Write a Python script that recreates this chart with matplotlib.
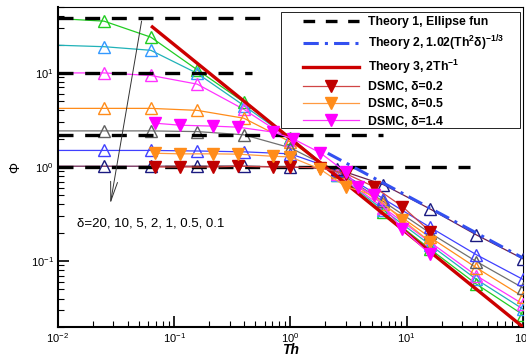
import numpy as np
import matplotlib
matplotlib.use("Agg")
import matplotlib.pyplot as plt
from matplotlib.ticker import LogLocator, NullFormatter
from matplotlib.patches import Rectangle

plt.rcParams['font.family'] = ['Liberation Sans', 'DejaVu Sans']
plt.rcParams['mathtext.fontset'] = 'custom'
plt.rcParams['mathtext.rm'] = 'Liberation Sans'
plt.rcParams['mathtext.bf'] = 'Liberation Sans:bold'
plt.rcParams['axes.unicode_minus'] = False

############### data #######################
# hollow triangles: delta = 20, 10, 5, 2, 1, 0.5, 0.1 (first point = left edge, no marker)
th_open = [0.01, 0.025, 0.063, 0.158, 0.398, 1.0, 2.51, 6.31, 15.8, 39.8, 100.0]
phi_d20 = [37.8, 35.5, 24.0, 10.8, 4.9, 2.05, 0.82, 0.33, 0.135, 0.057, 0.027]
phi_d10 = [19.7, 19.0, 17.4, 9.9, 4.5, 2.0, 0.83, 0.35, 0.15, 0.064, 0.031]
phi_d5 = [10.0, 10.0, 9.4, 7.6, 4.1, 1.95, 0.85, 0.37, 0.16, 0.07, 0.035]
phi_d2 = [4.2, 4.2, 4.2, 4.0, 3.3, 1.85, 0.88, 0.40, 0.18, 0.085, 0.042]
phi_d1 = [2.42, 2.42, 2.42, 2.38, 2.2, 1.6, 0.90, 0.43, 0.20, 0.099, 0.052]
phi_d05 = [1.5, 1.5, 1.5, 1.48, 1.45, 1.38, 0.93, 0.46, 0.23, 0.117, 0.064]
phi_d01 = [1.02, 1.02, 1.02, 1.02, 1.02, 1.0, 0.95, 0.65, 0.36, 0.19, 0.106]

# DSMC filled triangles
th_dsmc = [0.069, 0.113, 0.217, 0.356, 0.71, 1.0, 1.8, 3.0, 5.2, 9.2, 16.0]
dsmc_02 = [1.0, 1.0, 1.0, 1.02, 1.0, 1.0, 0.98, 0.85, 0.62, 0.38, 0.205]
dsmc_05 = [1.4, 1.38, 1.38, 1.37, 1.3, 1.28, 0.95, 0.62, 0.5, 0.275, 0.16]
th_dsmc14 = [0.069, 0.113, 0.217, 0.356, 0.71, 1.05, 1.8, 3.0, 3.8, 5.2, 9.2, 16.0]
dsmc_14 = [2.92, 2.78, 2.72, 2.65, 2.35, 2.0, 1.42, 0.88, 0.62, 0.5, 0.22, 0.118]

# Theory 1 (ellipse function) levels and their right ends
t1_levels = [38.7, 10.0, 2.18, 1.0]
t1_ends = [0.6, 0.47, 6.3, 35.0]
# Theory 2 and 3 end points
t2_th = [2.1, 100.0]
t2_phi = [1.4, 0.108]
t3_th = [0.065, 100.0]
t3_phi = [30.8, 0.02]

fig = plt.figure(figsize=(5.26, 3.58), dpi=100)
ax = fig.add_axes([0.110, 0.087, 0.884, 0.893])
ax.set_xscale('log')
ax.set_yscale('log')

open_series = [(phi_d20, '#22cc22', '#22cc22'),
               (phi_d10, '#20b2b8', '#3399ff'),
               (phi_d5, '#ff33ff', '#ff33ff'),
               (phi_d2, '#ff8c1a', '#ff8c1a'),
               (phi_d1, '#707070', '#606060'),
               (phi_d05, '#4040ff', '#4040ff'),
               (phi_d01, '#6a2050', '#1a1a80')]
for phi, lc, mc in open_series:
    ax.plot(th_open, phi, color=lc, lw=0.9, zorder=2)
    ax.plot(th_open[1:], phi[1:], ls='none', marker='^', ms=9, mfc='none',
            mec=mc, mew=1.0, zorder=3)

# Theory 1
for lev, xe in zip(t1_levels, t1_ends):
    ax.plot([0.01, xe], [lev, lev], color='black', lw=2.4, dashes=(4.5, 3.5), zorder=4)
l1, = ax.plot([], [], color='black', lw=2.4, dashes=(3.5, 3.2))
l2, = ax.plot(t2_th, t2_phi, color='#3350f0', lw=2.2, dashes=(5, 2, 1, 2), zorder=4)
l3, = ax.plot(t3_th, t3_phi, color='#cc0000', lw=2.4, zorder=4)

d1, = ax.plot(th_dsmc, dsmc_02, color='#d04545', lw=0.9, marker='v', ms=9,
              mfc='#c00000', mec='#c00000', zorder=5)
d2, = ax.plot(th_dsmc, dsmc_05, color='#ff9a40', lw=0.9, marker='v', ms=9,
              mfc='#ff8c1a', mec='#ff8c1a', zorder=5)
d3, = ax.plot(th_dsmc14, dsmc_14, color='#ff33ff', lw=0.9, marker='v', ms=9,
              mfc='#ff00ff', mec='#ff00ff', zorder=5)

ax.set_xlim(0.01, 100)
ax.set_ylim(0.02, 50)

ax.xaxis.set_major_locator(LogLocator(base=10, numticks=10))
ax.yaxis.set_major_locator(LogLocator(base=10, numticks=10))
ax.xaxis.set_minor_locator(LogLocator(base=10, subs=np.arange(2, 10), numticks=20))
ax.yaxis.set_minor_locator(LogLocator(base=10, subs=np.arange(2, 10), numticks=20))
ax.xaxis.set_minor_formatter(NullFormatter())
ax.yaxis.set_minor_formatter(NullFormatter())
ax.tick_params(which='major', direction='in', length=8, width=1.2, labelsize=8,
               top=False, right=False, pad=3)
ax.tick_params(which='minor', direction='in', length=4, width=0.8, top=False, right=False)
ax.spines['left'].set_linewidth(1.5)
ax.spines['bottom'].set_linewidth(1.5)
ax.spines['top'].set_linewidth(0.8)
ax.spines['right'].set_linewidth(0.8)

ax.set_xlabel('Th', fontsize=10, fontweight='bold', style='italic', labelpad=-1)
ax.set_ylabel('Φ', fontsize=10, labelpad=6)

ax.annotate('', xy=(0.028, 0.38), xytext=(0.053, 38),
            arrowprops=dict(arrowstyle='->,head_length=1.4,head_width=0.25',
                            color='#333333', lw=0.7), zorder=6)
ax.text(0.0146, 0.25, 'δ=20, 10, 5, 2, 1, 0.5, 0.1', fontsize=9.5, va='center', ha='left')

# legend box drawn separately (wide side padding as in the original)
ax.add_patch(Rectangle((0.480, 0.622), 0.514, 0.362, transform=ax.transAxes,
                       facecolor='white', edgecolor='black', lw=0.6, zorder=9))
leg = ax.legend([l1, l2, l3, d1, d2, d3],
                ['Theory 1, Ellipse fun',
                 r'Theory 2, 1.02(Th$^\mathbf{2}$δ)$^\mathbf{-1/3}$',
                 r'Theory 3, 2Th$^\mathbf{-1}$',
                 'DSMC, δ=0.2', 'DSMC, δ=0.5', 'DSMC, δ=1.4'],
                loc='upper left', bbox_to_anchor=(0.527, 0.972),
                prop={'size': 8.8, 'weight': 'bold'}, numpoints=1,
                handlelength=4.6, handletextpad=0.75, labelspacing=0.42,
                borderpad=0, borderaxespad=0, frameon=False)
leg.set_zorder(10)

plt.savefig("out.png", dpi=100)
